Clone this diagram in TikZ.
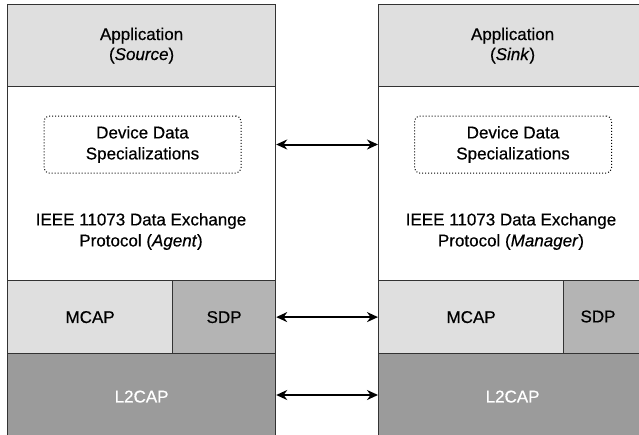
\documentclass[tikz,border=0pt]{standalone}
\usepackage{fontspec}
\setmainfont{Liberation Sans}[FakeBold=0.5]
\usetikzlibrary{arrows.meta}
\definecolor{appgray}{HTML}{DFDFDF}
\definecolor{mcapgray}{HTML}{DFDFDF}
\definecolor{sdpgray}{HTML}{B4B4B4}
\definecolor{lcapgray}{HTML}{9B9B9B}
\definecolor{edgegray}{HTML}{333333}
\begin{document}
\begin{tikzpicture}[x=1pt,y=-1pt,
  layer/.style={draw=edgegray, line width=1.2pt, inner sep=0pt, anchor=north west,
    font=\fontsize{17}{20}\selectfont, align=center},
  lbl/.style={inner sep=0pt, font=\fontsize{17}{21}\selectfont, align=center},
  spec/.style={draw=black, dotted, line width=1pt, rounded corners=5pt,
    minimum width=197pt, minimum height=57pt, inner sep=0pt,
    font=\fontsize{17}{21}\selectfont, align=center},
  conn/.style={line width=2pt, {Stealth[length=11pt,width=10pt]}-{Stealth[length=11pt,width=10pt]}}]
\useasboundingbox (0,0) rectangle (639,434);
\begin{scope}
\clip (0,0) rectangle (639,434);
% source side stack
\node[layer, fill=appgray, minimum width=268pt, minimum height=82pt] (lapp) at (7,4)
  {Application\\(\textit{Source})};
\node[layer, fill=white, minimum width=268pt, minimum height=194pt] (lproto) at (7,86) {};
\node[layer, fill=mcapgray, minimum width=165pt, minimum height=73pt] (lmcap) at (7,280) {MCAP};
\node[layer, fill=sdpgray, minimum width=103pt, minimum height=73pt] (lsdp) at (172,280) {SDP};
\node[layer, fill=lcapgray, text=white, minimum width=268pt, minimum height=86pt] (llcap) at (7,353) {L2CAP};
% sink side stack
\node[layer, fill=appgray, minimum width=268pt, minimum height=82pt] (rapp) at (378,4)
  {Application\\(\textit{Sink})};
\node[layer, fill=white, minimum width=268pt, minimum height=194pt] (rproto) at (378,86) {};
\node[layer, fill=mcapgray, minimum width=185pt, minimum height=73pt] (rmcap) at (378,280) {MCAP};
\node[layer, fill=sdpgray, minimum width=83pt, minimum height=73pt] (rsdp) at (563,280) {};
\node[lbl] (rsdplbl) at (598,316.5) {SDP};
\node[layer, fill=lcapgray, text=white, minimum width=268pt, minimum height=86pt] (rlcap) at (378,353) {L2CAP};
\end{scope}
% device data specializations
\node[spec] (ldev) at (142.5,144.5) {Device Data\\Specializations};
\node[spec] (rdev) at (513,144.5) {Device Data\\Specializations};
% protocol labels
\node[lbl] (lproto lbl) at (141,231.5) {IEEE 11073 Data Exchange\\Protocol (\textit{Agent})};
\node[lbl] (rproto lbl) at (511,231.5) {IEEE 11073 Data Exchange\\Protocol (\textit{Manager})};
% peer-to-peer links
\draw[conn] (lproto.east |- ldev) -- (rproto.west |- rdev);
\draw[conn] (lsdp.east) -- (rmcap.west);
\draw[conn] (llcap.east |- 0,395) -- (rlcap.west |- 0,395);
\end{tikzpicture}
\end{document}
